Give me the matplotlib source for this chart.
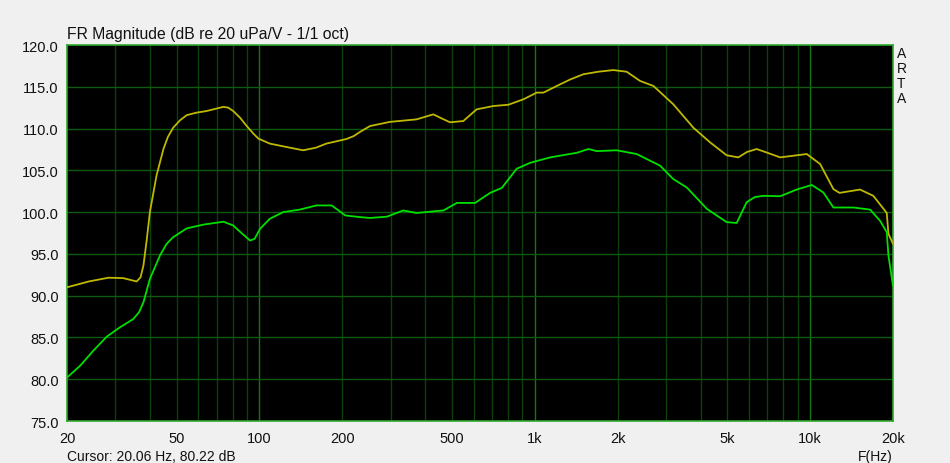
import matplotlib.pyplot as plt
from matplotlib.ticker import FixedLocator, NullFormatter

plt.rcParams['font.family'] = ['Liberation Sans', 'DejaVu Sans']

# yellow curve (upper)
f_yel = [20, 24, 28.3, 32, 35.8, 37.0, 37.9, 39.0, 40.0, 42.3, 44.8, 46.5, 48.6, 51.5, 54.4,
         59, 64.3, 70, 74.0, 77, 80.3, 85, 89.9, 95, 99.1, 109, 125, 144, 160, 175, 207, 220,
         232, 252, 298, 372, 428, 460, 492, 550, 615, 708, 802, 909, 1016, 1075, 1202, 1350,
         1502, 1700, 1928, 2157, 2411, 2696, 3186, 3767, 4331, 4977, 5485, 5900, 6397, 7000,
         7781, 9726, 10874, 12151, 12784, 15178, 16961, 18982, 19250, 20000]
db_yel = [91.0, 91.7, 92.15, 92.1, 91.7, 92.2, 93.6, 96.8, 100.0, 104.4, 107.55, 109.0,
          110.1, 111.0, 111.6, 111.9, 112.1, 112.4, 112.6, 112.5, 112.1, 111.3, 110.3, 109.4,
          108.8, 108.2, 107.8, 107.4, 107.7, 108.2, 108.75, 109.1, 109.6, 110.3, 110.8,
          111.1, 111.7, 111.2, 110.75, 110.9, 112.3, 112.7, 112.85, 113.5, 114.3, 114.3,
          115.1, 115.9, 116.5, 116.8, 117.0, 116.8, 115.7, 115.1, 112.9, 110.1, 108.35,
          106.8, 106.55, 107.2, 107.55, 107.1, 106.55, 106.95, 105.75, 102.75, 102.3, 102.7,
          101.95, 99.9, 97.4, 96.2]

# green curve (lower)
f_grn = [20, 22.3, 24.9, 27.9, 31.1, 34.8, 36.5, 37.9, 40.0, 43.5, 46, 48.6, 54.4, 62.5,
         74.0, 80.3, 86, 92.4, 96, 100.5, 109, 122, 140, 161, 183, 205, 232, 252, 290, 333,
         372, 466, 521, 607, 688, 759, 860, 962, 1137, 1421, 1566, 1679, 1985, 2345, 2853,
         3186, 3564, 4213, 4977, 5410, 5885, 6300, 6766, 7781, 8934, 10138, 11170, 12151,
         14370, 16516, 17956, 18982, 19250, 20000]
db_grn = [80.2, 81.6, 83.4, 85.1, 86.2, 87.2, 88.0, 89.2, 92.0, 94.8, 96.2, 97.0, 98.05,
          98.5, 98.85, 98.4, 97.5, 96.6, 96.8, 98.0, 99.2, 100.0, 100.3, 100.8, 100.8, 99.6,
          99.4, 99.3, 99.45, 100.2, 99.9, 100.2, 101.1, 101.1, 102.3, 102.9, 105.2, 105.9,
          106.55, 107.1, 107.55, 107.3, 107.4, 106.95, 105.55, 103.95, 102.95, 100.4, 98.8,
          98.7, 101.2, 101.8, 101.95, 101.9, 102.7, 103.25, 102.35, 100.55, 100.55, 100.3,
          98.95, 97.6, 94.8, 91.2]

x_ticks = [20, 50, 100, 200, 500, 1000, 2000, 5000, 10000, 20000]
x_labels = ['20', '50', '100', '200', '500', '1k', '2k', '5k', '10k', '20k']
y_ticks = [75, 80, 85, 90, 95, 100, 105, 110, 115, 120]

fig = plt.figure(figsize=(9.5, 4.64), dpi=100, facecolor='#f0f0f0')
ax = fig.add_axes([67 / 950, 1 - 422 / 464, 826 / 950, 376 / 464])
ax.set_facecolor('black')

# grid lines
minor = [m * d for d in (10, 100, 1000) for m in range(2, 10)]
minor = [v for v in minor if 20 < v < 20000 and v not in (100, 1000, 10000)]
for v in minor:
    ax.axvline(v, color='#0b400b', lw=1.0, zorder=1)
for v in (100, 1000, 10000):
    ax.axvline(v, color='#127812', lw=1.0, zorder=1)
for v in y_ticks[1:-1]:
    ax.axhline(v, color='#0f5a0f', lw=1.0, zorder=1)

ax.plot(f_yel, db_yel, color='#bfb800', lw=1.3, zorder=3)
ax.plot(f_grn, db_grn, color='#00e000', lw=1.3, zorder=3)

ax.set_xscale('log')
ax.set_xlim(20, 20000)
ax.set_ylim(75, 120)
ax.xaxis.set_major_locator(FixedLocator(x_ticks))
ax.set_xticklabels(x_labels)
ax.xaxis.set_minor_locator(FixedLocator([]))
ax.xaxis.set_minor_formatter(NullFormatter())
ax.set_yticks(y_ticks)
ax.set_yticklabels([f'{v:.1f}' for v in y_ticks])
ax.tick_params(length=0, labelsize=10.5, colors='#111111')
ax.tick_params(axis='x', pad=7)
ax.tick_params(axis='y', pad=6)
for s in ax.spines.values():
    s.set_color('#2ea82e')
    s.set_linewidth(1.2)

fig.text(67 / 950, 1 - 34 / 464, 'FR Magnitude (dB re 20 uPa/V - 1/1 oct)',
         fontsize=11.3, va='center', ha='left', color='#111111')
fig.text(67 / 950, 1 - 457 / 464, 'Cursor: 20.06 Hz, 80.22 dB',
         fontsize=10, va='center', ha='left', color='#111111')
fig.text(893 / 950, 1 - 457 / 464, 'F(Hz)',
         fontsize=10, va='center', ha='right', color='#111111')
for i, ch in enumerate('ARTA'):
    fig.text(897 / 950, 1 - (54 + i * 15) / 464, ch, fontsize=10,
             va='center', ha='left', color='#111111')

fig.savefig('out.png', dpi=100, facecolor=fig.get_facecolor())
